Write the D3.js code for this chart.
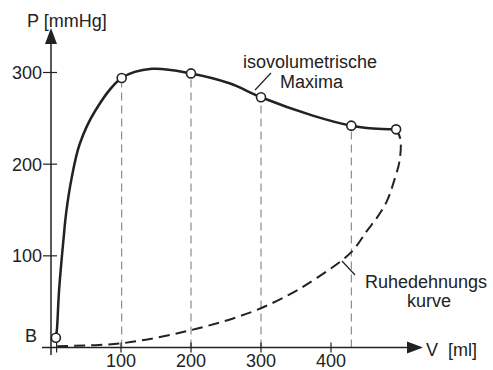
<!DOCTYPE html>
<html>
<head>
<meta charset="utf-8">
<script src="https://cdn.jsdelivr.net/npm/d3@7"></script>
<style>
  body { margin: 0; background: #fff; }
  text { font-family: "Liberation Sans", Arial, sans-serif; font-size: 18px; fill: #222; }
</style>
</head>
<body>
<svg id="chart" width="493" height="370"></svg>
<script>
// isovolumetric maxima (solid curve)
var maxV = [7, 8.5, 11.5, 17.6, 22, 29.5, 41, 63, 101, 144, 200, 256, 300, 374, 429, 460, 493];
var maxP = [10.7, 20, 62, 116, 149, 185, 222, 258, 294, 304, 299, 288, 273, 253, 242, 239, 238];

// measured points (circles)
var ptV = [7, 101, 200, 300, 429, 493];
var ptP = [10.7, 294, 299, 273, 242, 238];

// resting stretch curve (dashed)
var restV = [9, 100, 200, 284, 341, 380, 429, 451, 466, 480, 489, 498, 499, 494];
var restP = [1.5, 4.5, 19, 38, 58, 76, 104, 127, 142, 160, 179, 204, 228, 236];

var xTicks = [100, 200, 300, 400];
var yTicks = [100, 200, 300];

var svg = d3.select('#chart');

var x = d3.scaleLinear().domain([0, 400]).range([51, 331]);
var y = d3.scaleLinear().domain([0, 300]).range([347.5, 72.5]);

var ink = '#222';

// dashed verticals from the axis up to each maximum
svg.selectAll('line.drop').data(ptV.slice(1, 5))
  .enter().append('line')
  .attr('class', 'drop')
  .attr('x1', function(d) { return x(d); })
  .attr('x2', function(d) { return x(d); })
  .attr('y1', y(0))
  .attr('y2', function(d, i) { return y(ptP[i + 1]) + 5; })
  .style('stroke', '#777')
  .style('stroke-width', 1)
  .style('stroke-dasharray', '8,5');

// axes
svg.append('line')
  .attr('x1', x(0)).attr('x2', x(0))
  .attr('y1', 40).attr('y2', 355)
  .style('stroke', ink).style('stroke-width', 1.5);
svg.append('path')
  .attr('d', 'M' + x(0) + ',28 L' + (x(0) - 6) + ',44 L' + (x(0) + 6) + ',44 Z')
  .style('fill', ink);

svg.append('line')
  .attr('x1', 42).attr('x2', 410)
  .attr('y1', y(0)).attr('y2', y(0))
  .style('stroke', ink).style('stroke-width', 1.5);
svg.append('path')
  .attr('d', 'M423,' + y(0) + ' L407,' + (y(0) - 6) + ' L407,' + (y(0) + 6) + ' Z')
  .style('fill', ink);

// ticks
svg.selectAll('line.xt').data(xTicks.concat([8]))
  .enter().append('line')
  .attr('x1', function(d) { return x(d); })
  .attr('x2', function(d) { return x(d); })
  .attr('y1', y(0) - 5).attr('y2', y(0) + 5)
  .style('stroke', ink).style('stroke-width', 1.2);

svg.selectAll('line.yt').data(yTicks)
  .enter().append('line')
  .attr('x1', 43).attr('x2', 57)
  .attr('y1', function(d) { return y(d); })
  .attr('y2', function(d) { return y(d); })
  .style('stroke', ink).style('stroke-width', 1.2);

svg.selectAll('text.xl').data(xTicks)
  .enter().append('text')
  .attr('x', function(d) { return x(d); })
  .attr('y', 367)
  .attr('text-anchor', 'middle')
  .text(function(d) { return d; });

svg.selectAll('text.yl').data(yTicks)
  .enter().append('text')
  .attr('x', 42)
  .attr('y', function(d) { return y(d) + 6.5; })
  .attr('text-anchor', 'end')
  .text(function(d) { return d; });

// curves
var line = d3.line()
  .x(function(d) { return x(d[0]); })
  .y(function(d) { return y(d[1]); })
  .curve(d3.curveCatmullRom.alpha(0.5));

svg.append('path')
  .datum(d3.zip(restV, restP))
  .attr('d', line)
  .style('fill', 'none')
  .style('stroke', ink)
  .style('stroke-width', 2)
  .style('stroke-dasharray', '11,6');

svg.append('path')
  .datum(d3.zip(maxV, maxP))
  .attr('d', line)
  .style('fill', 'none')
  .style('stroke', ink)
  .style('stroke-width', 2.5);

svg.selectAll('circle').data(d3.zip(ptV, ptP))
  .enter().append('circle')
  .attr('cx', function(d) { return x(d[0]); })
  .attr('cy', function(d) { return y(d[1]); })
  .attr('r', 4.5)
  .style('fill', '#fff')
  .style('stroke', ink)
  .style('stroke-width', 1.6);

// labels
svg.append('text').attr('x', 27).attr('y', 27).text('P [mmHg]');
svg.append('text').attr('x', 426).attr('y', 356).attr('xml:space', 'preserve').text('V  [ml]');
svg.append('text').attr('x', 25).attr('y', 342).text('B');

svg.append('text').attr('x', 243).attr('y', 68).text('isovolumetrische');
svg.append('text').attr('x', 280).attr('y', 88).text('Maxima');
svg.append('line')
  .attr('x1', 271).attr('y1', 73).attr('x2', 255).attr('y2', 90)
  .style('stroke', ink).style('stroke-width', 1.2);

svg.append('text').attr('x', 365).attr('y', 288).text('Ruhedehnungs');
svg.append('text').attr('x', 407).attr('y', 307).text('kurve');
svg.append('line')
  .attr('x1', 355).attr('y1', 275).attr('x2', 342).attr('y2', 261)
  .style('stroke', ink).style('stroke-width', 1.2);
</script>
</body>
</html>
